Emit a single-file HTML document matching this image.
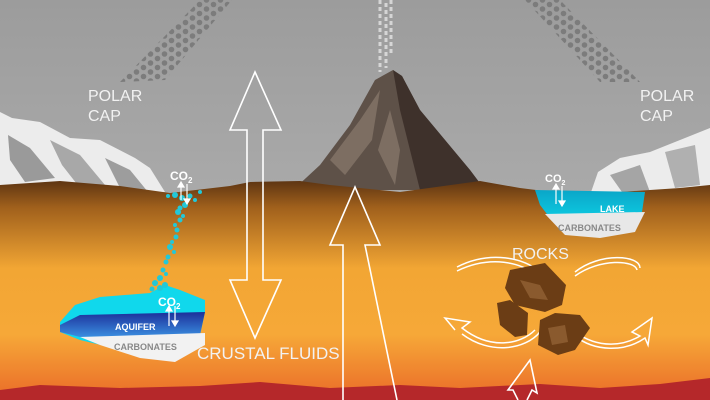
<!DOCTYPE html>
<html><head><meta charset="utf-8"><style>
html,body{margin:0;padding:0;width:710px;height:400px;overflow:hidden;background:#aaa}
svg{display:block}
text{font-family:"Liberation Sans",sans-serif}
</style></head><body>
<svg width="710" height="400" viewBox="0 0 710 400" xmlns="http://www.w3.org/2000/svg">
<defs>
<linearGradient id="sky" x1="0" y1="0" x2="0" y2="1">
<stop offset="0" stop-color="#9c9c9c"/><stop offset="1" stop-color="#b8b8b8"/></linearGradient>
<linearGradient id="earth" x1="0" y1="0" x2="0" y2="1">
<stop offset="0" stop-color="#5e3512"/><stop offset="0.12" stop-color="#a0601c"/>
<stop offset="0.4" stop-color="#f2a634"/><stop offset="0.7" stop-color="#f6a838"/>
<stop offset="1" stop-color="#ea6a28"/></linearGradient>
<linearGradient id="aq" x1="0" y1="0" x2="0" y2="1">
<stop offset="0" stop-color="#1c2f9a"/><stop offset="1" stop-color="#3a8ee0"/></linearGradient>
<linearGradient id="lake" x1="0" y1="0" x2="0" y2="1">
<stop offset="0" stop-color="#0aa6c8"/><stop offset="1" stop-color="#10e0f0"/></linearGradient>
<pattern id="dots" width="14" height="9" patternUnits="userSpaceOnUse">
<circle cx="3.5" cy="4.5" r="2.8" fill="#7c7c7c"/><circle cx="10.5" cy="0" r="2.8" fill="#7c7c7c"/><circle cx="10.5" cy="9" r="2.8" fill="#7c7c7c"/></pattern>
</defs>
<rect width="710" height="400" fill="url(#sky)"/>
<polygon points="120,82 165,80 232,0 200,0" fill="url(#dots)"/>
<polygon points="525,0 560,0 640,82 600,82" fill="url(#dots)"/>
<!-- plume -->
<g stroke="#dcdcdc" stroke-width="3" stroke-dasharray="4 3" opacity="0.9">
<line x1="380" y1="0" x2="380" y2="72"/><line x1="386" y1="3" x2="386" y2="68"/><line x1="391" y1="0" x2="391" y2="55"/>
</g>
<!-- volcano -->
<polygon points="293,190 320,165 350,125 375,80 393,70 402,76 420,110 445,140 470,170 485,190" fill="#5e5148"/>
<polygon points="393,70 402,76 420,110 445,140 470,170 485,190 420,190 410,150 400,110" fill="#3e312b"/>
<polygon points="330,160 360,120 380,90 372,140 345,175" fill="#7d6e62"/>
<polygon points="390,110 400,150 395,185 378,150" fill="#7d6e62"/>
<!-- left polar cap -->
<polygon points="0,112 12,118 40,122 70,138 100,140 135,158 150,168 165,192 0,195" fill="#ececec"/>
<polygon points="8,135 30,148 55,178 25,182 10,160" fill="#9a9a9a"/>
<polygon points="50,140 80,155 105,185 80,188 62,165" fill="#a8a8a8"/>
<polygon points="105,158 130,170 148,192 122,192" fill="#9d9d9d"/>
<!-- right polar cap -->
<polygon points="590,195 598,172 620,158 650,152 680,140 710,128 710,195" fill="#ececec"/>
<polygon points="610,175 640,165 650,192 622,192" fill="#a5a5a5"/>
<polygon points="665,152 695,145 700,185 675,188" fill="#b0b0b0"/>
<!-- earth -->
<path d="M0,185 L60,181 L120,186 L170,193 L230,186 L250,182 L300,181 L330,185 L400,192 L480,181 L520,188 L560,193 L620,192 L680,188 L710,185 L710,400 L0,400 Z" fill="url(#earth)"/>
<path d="M0,390 L40,385 L120,388 L200,386 L260,382 L330,388 L400,385 L460,388 L540,384 L600,388 L660,384 L710,378 L710,400 L0,400 Z" fill="#b5282a"/>
<!-- lake -->
<path d="M535,190 L645,192 L642,212 L630,230 L600,236 L565,232 L550,218 L540,205 Z" fill="url(#lake)"/>
<path d="M545,214 L645,212 L635,232 L600,238 L565,235 Z" fill="#e8e8e8"/>
<text x="600" y="212" font-size="9" font-weight="bold" fill="#fff">LAKE</text>
<text x="558" y="231" font-size="9" font-weight="bold" fill="#888">CARBONATES</text>
<text x="545" y="182" font-size="11" font-weight="bold" fill="#fff">CO<tspan font-size="7" dy="3">2</tspan></text>
<g stroke="#fff" stroke-width="1.2" fill="#fff"><line x1="556" y1="186" x2="556" y2="204"/><line x1="562" y1="186" x2="562" y2="204"/>
<polygon points="553,189 556,184 559,189"/><polygon points="559,201 562,206 565,201"/></g>
<!-- aquifer -->
<path d="M60,322 L75,305 L100,297 L150,293 L165,285 L180,290 L205,300 L205,312 L200,335 L205,345 L170,360 L130,352 L80,340 L60,332 Z" fill="#10d8ec"/>
<path d="M60,325 L80,315 L205,312 L200,335 L80,337 L60,332 Z" fill="url(#aq)"/>
<path d="M80,337 L205,333 L205,345 L175,362 L140,358 L100,345 Z" fill="#f2f2f2"/>
<text x="115" y="330" font-size="9" font-weight="bold" fill="#fff">AQUIFER</text>
<text x="114" y="350" font-size="9" font-weight="bold" fill="#888">CARBONATES</text>
<text x="158" y="306" font-size="12" font-weight="bold" fill="#fff">CO<tspan font-size="8" dy="3">2</tspan></text>
<g stroke="#fff" stroke-width="1.2" fill="#fff"><line x1="169" y1="308" x2="169" y2="326"/><line x1="175" y1="306" x2="175" y2="324"/>
<polygon points="166,311 169,306 172,311"/><polygon points="172,321 175,326 178,321"/></g>
<!-- bubbles -->
<g fill="#22c8d8">
<circle cx="175" cy="195" r="3"/><circle cx="182" cy="198" r="3"/><circle cx="190" cy="196" r="2.5"/><circle cx="200" cy="192" r="2"/><circle cx="168" cy="196" r="2"/><circle cx="195" cy="200" r="2"/>
<circle cx="185" cy="205" r="3"/><circle cx="180" cy="208" r="2.5"/><circle cx="178" cy="212" r="3"/><circle cx="183" cy="216" r="2"/><circle cx="180" cy="220" r="2.5"/><circle cx="175" cy="225" r="2"/><circle cx="177" cy="230" r="2.5"/>
<circle cx="176" cy="237" r="2.5"/><circle cx="172" cy="242" r="2"/><circle cx="170" cy="247" r="3"/><circle cx="174" cy="252" r="2"/><circle cx="168" cy="257" r="2.5"/><circle cx="166" cy="262" r="2.5"/>
<circle cx="163" cy="270" r="2.5"/><circle cx="166" cy="274" r="2"/><circle cx="160" cy="278" r="3"/><circle cx="155" cy="283" r="3"/><circle cx="165" cy="285" r="3"/><circle cx="160" cy="288" r="3"/><circle cx="152" cy="289" r="2.5"/>
</g>
<text x="170" y="180" font-size="12" font-weight="bold" fill="#fff">CO<tspan font-size="8" dy="3">2</tspan></text>
<g stroke="#fff" stroke-width="1.2" fill="#fff"><line x1="181" y1="184" x2="181" y2="200"/><line x1="187" y1="184" x2="187" y2="202"/>
<polygon points="178,187 181,182 184,187"/><polygon points="184,199 187,204 190,199"/></g>
<!-- double arrow -->
<path d="M255,72 L281,130 L263,130 L263,280 L281,280 L255,338 L230,280 L247,280 L247,130 L230,130 Z" fill="none" stroke="#fff" stroke-width="1.6"/>
<!-- middle up arrow -->
<path d="M343,400 L343,245 L330,245 L355,187 L380,245 L365,245 L397,400" fill="none" stroke="#fff" stroke-width="1.6"/>
<!-- bottom small arrow -->
<path d="M518,400 L513,390 L508,390 L530,360 L537,393 L532,390 L527,400" fill="none" stroke="#fff" stroke-width="1.6"/>
<!-- cycle arrows -->
<g fill="none" stroke="#fff" stroke-width="1.5">
<path d="M457,267 C490,250 525,258 540,272"/><path d="M457,271 C490,255 522,262 537,276"/>
<path d="M575,272 C600,252 640,255 640,268"/><path d="M575,276 C600,258 635,260 637,270"/>
<path d="M455,330 L445,318 L470,322 L462,328 C490,350 520,345 535,330"/>
<path d="M462,334 C490,355 525,350 540,332"/>
<path d="M575,332 C600,350 625,345 640,336 L632,332 L652,318 L648,345 L645,338 C625,352 595,352 575,336"/>
</g>
<!-- rocks -->
<g>
<polygon points="510,270 545,263 566,285 562,305 545,312 515,305 505,288" fill="#6b3d15"/>
<polygon points="497,303 510,300 528,313 527,335 515,337 500,325" fill="#6b3d15"/>
<polygon points="540,320 555,313 580,315 590,328 575,350 558,355 538,345" fill="#6b3d15"/>
<polygon points="520,280 540,285 548,300 530,298" fill="#8a5a2e"/>
<polygon points="548,328 565,325 568,342 552,345" fill="#8a5a2e"/>
</g>
<!-- labels -->
<g fill="#f2f2f2" font-size="16">
<text x="88" y="101">POLAR</text><text x="88" y="121">CAP</text>
<text x="640" y="101">POLAR</text><text x="640" y="121">CAP</text>
<text x="197" y="359" font-size="17">CRUSTAL FLUIDS</text>
<text x="512" y="259" font-size="16">ROCKS</text>
</g>
</svg>
</body></html>
